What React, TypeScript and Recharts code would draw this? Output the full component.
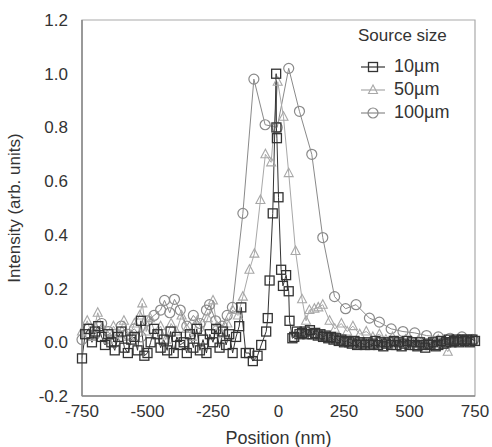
import React from 'react';
import { LineChart, Line, XAxis, YAxis, Label, Legend, ReferenceArea } from 'recharts';

// positions (nm) and intensities
const pos10 = [-750, -738, -725, -712, -700, -688, -675, -662, -650, -638, -625, -612, -600, -588, -575, -562, -550, -538, -525, -512, -500, -488, -475, -462, -450, -438, -425, -412, -400, -388, -375, -362, -350, -338, -325, -312, -300, -288, -275, -262, -250, -238, -225, -212, -200, -188, -175, -162, -150, -142, -125, -112,
  -98, -80, -66, -47, -41, -34, -22, -9, -8, -6, 0, 10, 17, 29, 39, 42, 53,
  60, 70, 80, 90, 100, 110, 120, 130, 140, 150, 160, 170, 180, 190, 200, 210, 220, 230, 240, 250, 260, 270, 280, 290, 300, 310, 320, 330, 340, 350, 360, 370, 380, 390, 400, 410, 420, 430, 440, 450, 460, 470, 480, 490, 500, 510, 520, 530, 540, 550, 560, 570, 580, 590, 600, 610, 620, 630, 640, 650, 660, 670, 680, 690, 700, 710, 720, 730, 740, 750];
const val10 = [-0.06, 0.03, 0.05, 0.0, 0.04, 0.06, 0.02, -0.01, 0.03, 0.0, -0.03, 0.02, 0.04, -0.02, -0.04, 0.01, 0.02, -0.03, 0.08, -0.05, -0.04, 0.0, 0.05, 0.03, -0.02, 0.01, -0.03, 0.04, -0.04, 0.02, -0.01, 0.0, -0.04, 0.03, -0.02, 0.05, -0.03, 0.01, -0.04, 0.03, 0.0, 0.05, -0.02, 0.04, -0.01, 0.03, -0.04, 0.02, 0.06, 0.13, -0.04, -0.04,
  -0.07, -0.05, -0.01, 0.04, 0.09, 0.23, 0.48, 1.0, 0.8, 0.76, 0.54, 0.27, 0.21, 0.25, 0.19, 0.08, 0.015,
  0.02, 0.04, 0.03, 0.035, 0.04, 0.03, 0.045, 0.03, 0.035, 0.025, 0.03, 0.02, 0.025, 0.015, 0.02, 0.01, 0.015, 0.005, 0.01, 0.0, 0.005, 0.0, -0.005, 0.005, -0.01, 0.0, -0.005, -0.01, 0.0, -0.01, -0.005, 0.005, -0.01, 0.0, -0.015, -0.005, 0.0, -0.01, 0.005, -0.01, 0.0, -0.015, -0.005, 0.005, -0.01, 0.0, -0.01, -0.015, 0.0, -0.01, -0.02, -0.005, -0.01, 0.0, -0.015, -0.01, 0.005, -0.005, 0.0, 0.01, 0.0, 0.005, 0.01, 0.0, 0.01, 0.005, 0.01, 0.0, 0.01, 0.005];

const pos50 = [-750, -730, -710, -690, -670, -650, -630, -610, -590, -570, -550, -530, -520, -505, -490, -470, -450, -430, -410, -390, -370, -350, -330, -310, -290, -270, -250, -235, -215, -195, -175, -155, -136, -111, -92, -69, -50, -28, -3, 19, 39, 65, 90, 105, 118, 137, 152, 169, 195, 215, 240, 262, 284, 310, 335, 360, 385, 410, 435, 460, 485, 510, 535, 560, 585, 610, 630, 646, 665, 690, 715, 740];
const val50 = [0.04, 0.08, 0.02, 0.11, 0.05, 0.01, 0.06, 0.03, 0.08, 0.02, 0.07, 0.1, 0.145, 0.04, 0.09, 0.03, 0.06, 0.01, 0.07, 0.04, 0.1, 0.05, 0.02, 0.08, 0.04, 0.09, 0.156, 0.06, 0.03, 0.07, 0.12, 0.1, 0.17, 0.27, 0.33, 0.53, 0.7, 0.67, 0.97, 0.84, 0.63, 0.34, 0.16, 0.08, 0.12, 0.125, 0.13, 0.14, 0.08, 0.05, 0.07, 0.04, 0.06, 0.03, 0.04, 0.02, 0.03, 0.01, 0.02, 0.0, 0.01, 0.0, 0.01, -0.01, 0.0, 0.01, -0.01, -0.035, 0.0, 0.01, 0.0, 0.01];

const pos100 = [-750, -725, -700, -675, -650, -625, -600, -575, -550, -525, -500, -475, -450, -435, -415, -397, -375, -350, -325, -300, -275, -263, -240, -215, -196, -176, -136, -94, -51, -5, 39, 80, 127, 169, 214, 256, 296, 347, 385, 430, 475, 520, 565, 610, 655, 700, 745];
const val100 = [0.01, 0.05, 0.03, 0.07, 0.04, 0.0, 0.06, 0.03, 0.05, 0.02, 0.08, 0.1, 0.12, 0.156, 0.11, 0.16, 0.12, 0.06, 0.1, 0.07, 0.12, 0.14, 0.08, 0.06, 0.1, 0.13, 0.48, 0.98, 0.81, 0.8, 1.02, 0.86, 0.7, 0.39, 0.17, 0.125, 0.14, 0.09, 0.075, 0.05, 0.04, 0.035, 0.025, 0.02, 0.015, 0.02, 0.01];

const xTicks = [-750, -500, -250, 0, 250, 500, 750];
const yTicks = [-0.2, 0, 0.2, 0.4, 0.6, 0.8, 1.0, 1.2];

const toPoints = (xs: number[], ys: number[]) => xs.map((x, i) => ({ x, y: ys[i] }));

const c10 = '#333';
const c50 = '#a8a8a8';
const c100 = '#8a8a8a';

const marker = (shape: string, color: string, cx: number, cy: number, key?: any) => {
  if (shape === 'square') {
    return <rect key={key} x={cx - 4.5} y={cy - 4.5} width={9} height={9} fill="none" stroke={color} strokeWidth={1.3} />;
  }
  if (shape === 'triangle') {
    return <polygon key={key} points={`${cx},${cy - 5} ${cx - 4.5},${cy + 3.5} ${cx + 4.5},${cy + 3.5}`} fill="none" stroke={color} strokeWidth={1.1} />;
  }
  return <circle key={key} cx={cx} cy={cy} r={5} fill="none" stroke={color} strokeWidth={1.2} />;
};

const dotFor = (shape: string, color: string) => (props: any) => {
  const { cx, cy, key } = props;
  if (cx == null || cy == null) return <g key={key} />;
  return marker(shape, color, cx, cy, key);
};

const legendRows = [
  { name: '10\u00b5m', shape: 'square', color: c10 },
  { name: '50\u00b5m', shape: 'triangle', color: c50 },
  { name: '100\u00b5m', shape: 'circle', color: c100 },
];

const LegendBox = () => (
  <div style={{ fontFamily: '"Liberation Sans", Arial, sans-serif', color: '#333' }}>
    <div style={{ fontSize: 17, marginBottom: 9 }}>Source size</div>
    {legendRows.map((r) => (
      <div key={r.name} style={{ display: 'flex', alignItems: 'center', height: 23 }}>
        <svg width={30} height={14}>
          <line x1={3} x2={27} y1={7} y2={7} stroke={r.color} strokeWidth={1.2} />
          {marker(r.shape, r.color, 15, 7)}
        </svg>
        <span style={{ fontSize: 18, marginLeft: 6 }}>{r.name}</span>
      </div>
    ))}
  </div>
);

const App: React.FC = () => {
  const tickStyle = { fill: '#333', fontSize: 17, fontFamily: '"Liberation Sans", Arial, sans-serif' };
  return (
    <div style={{ position: 'absolute', left: 0, top: 0, background: '#fff' }}>
      <LineChart width={492} height={447} margin={{ top: 20, right: 17, bottom: 0, left: 0 }}>
        <XAxis
          dataKey="x"
          type="number"
          domain={[-750, 750]}
          ticks={xTicks}
          height={51}
          tick={tickStyle}
          tickLine={false}
          tickMargin={3}
          stroke="#888"
          strokeWidth={1.5}
          allowDuplicatedCategory={false}
        >
          <Label value="Position (nm)" position="insideBottom" offset={3} style={{ ...tickStyle, fontSize: 18 }} />
        </XAxis>
        <YAxis
          type="number"
          domain={[-0.2, 1.2]}
          ticks={yTicks}
          width={82}
          tick={tickStyle}
          tickLine={false}
          tickMargin={8}
          stroke="#888"
          strokeWidth={1.5}
          tickFormatter={(v: number) => v.toFixed(1)}
        >
          <Label value="Intensity (arb. units)" angle={-90} position="insideLeft" offset={14} style={{ ...tickStyle, fontSize: 17, textAnchor: 'middle' }} />
        </YAxis>
        <ReferenceArea x1={-750} x2={750} y1={-0.2} y2={1.2} fill="none" stroke="#aaa" strokeWidth={1.2} />
        <Legend
          layout="vertical"
          verticalAlign="middle"
          align="center"
          wrapperStyle={{ position: 'absolute', top: 26, left: 358, width: 130 }}
          content={() => <LegendBox />}
        />
        <Line name="100µm" data={toPoints(pos100, val100)} dataKey="y" stroke={c100} strokeWidth={1} dot={dotFor('circle', c100)} isAnimationActive={false} />
        <Line name="50µm" data={toPoints(pos50, val50)} dataKey="y" stroke={c50} strokeWidth={1} dot={dotFor('triangle', c50)} isAnimationActive={false} />
        <Line name="10µm" data={toPoints(pos10, val10)} dataKey="y" stroke={c10} strokeWidth={1} dot={dotFor('square', c10)} isAnimationActive={false} />
      </LineChart>
    </div>
  );
};

export default App;
